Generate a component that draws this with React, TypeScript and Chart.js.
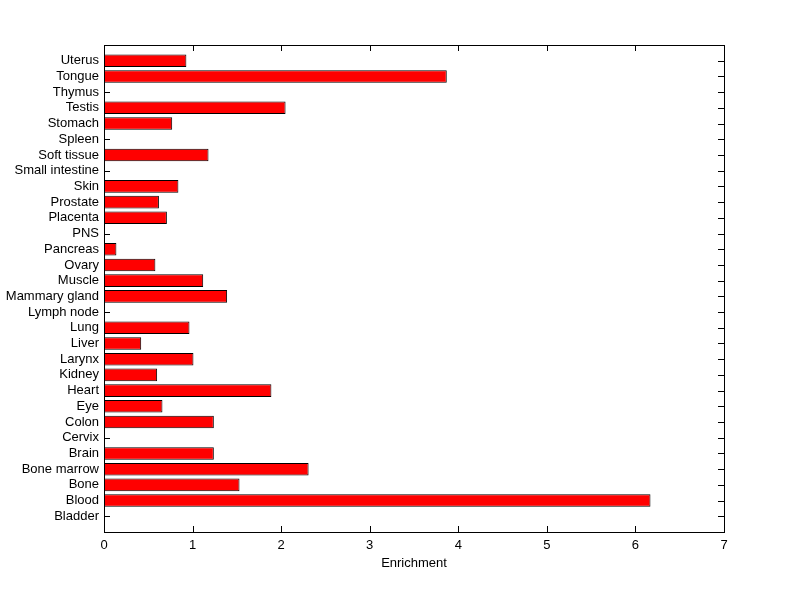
import React, { useEffect, useRef } from "react";
import { Chart, registerables } from "chart.js";

Chart.register(...registerables);

// Categories from bottom (position 1) to top (position 30)
const categories = [
  "Bladder", "Blood", "Bone", "Bone marrow", "Brain", "Cervix", "Colon", "Eye",
  "Heart", "Kidney", "Larynx", "Liver", "Lung", "Lymph node", "Mammary gland",
  "Muscle", "Ovary", "Pancreas", "PNS", "Placenta", "Prostate", "Skin",
  "Small intestine", "Soft tissue", "Spleen", "Stomach", "Testis", "Thymus",
  "Tongue", "Uterus",
];

const enrichment = [
  0, 6.17, 1.53, 2.31, 1.24, 0, 1.24, 0.66,
  1.89, 0.6, 1.01, 0.42, 0.965, 0, 1.39,
  1.12, 0.58, 0.14, 0, 0.71, 0.62, 0.84,
  0, 1.18, 0, 0.77, 2.05, 0,
  3.87, 0.93,
];

const xTicks = [0, 1, 2, 3, 4, 5, 6, 7];
const xTitle = "Enrichment";

const FONT = "'Liberation Sans', Arial, Helvetica, sans-serif";
const TICK_LEN = 6;

const framePlugin = {
  id: "matlabFrame",
  beforeDatasetsDraw(chart: any) {
    const { ctx, chartArea: a, scales } = chart;
    ctx.save();
    ctx.strokeStyle = "#000";
    ctx.lineWidth = 1;
    ctx.beginPath();
    for (const t of scales.x.ticks) {
      const px = Math.round(scales.x.getPixelForValue(t.value)) + 0.5;
      ctx.moveTo(px, a.bottom);
      ctx.lineTo(px, a.bottom - TICK_LEN);
      ctx.moveTo(px, a.top);
      ctx.lineTo(px, a.top + TICK_LEN);
    }
    for (let i = 0; i < categories.length; i++) {
      const py = Math.round(scales.y.getPixelForValue(i + 1)) + 0.5;
      ctx.moveTo(a.left, py);
      ctx.lineTo(a.left + TICK_LEN, py);
      ctx.moveTo(a.right, py);
      ctx.lineTo(a.right - TICK_LEN, py);
    }
    ctx.stroke();
    ctx.restore();
  },
  afterDatasetsDraw(chart: any) {
    const { ctx, chartArea: a } = chart;
    ctx.save();
    ctx.strokeStyle = "#000";
    ctx.lineWidth = 1;
    ctx.strokeRect(
      Math.round(a.left) + 0.5,
      Math.round(a.top) + 0.5,
      Math.round(a.right - a.left),
      Math.round(a.bottom - a.top)
    );
    ctx.restore();
  },
};

export default function App() {
  const ref = useRef<HTMLCanvasElement>(null);

  useEffect(() => {
    if (!ref.current) return;
    const chart = new Chart(ref.current, {
      type: "bar",
      data: {
        datasets: [
          {
            data: enrichment.map((v, i) => ({ x: v, y: i + 1 })),
            backgroundColor: "#ff0000",
            borderColor: "#000000",
            borderWidth: 1,
            borderSkipped: false,
            barPercentage: 0.8,
            categoryPercentage: 1,
          },
        ],
      },
      options: {
        indexAxis: "y",
        animation: false,
        responsive: false,
        maintainAspectRatio: false,
        layout: { padding: { left: 0, right: 76, top: 45, bottom: 0 } },
        plugins: {
          legend: { display: false },
          tooltip: { enabled: false },
        },
        scales: {
          x: {
            type: "linear",
            min: xTicks[0],
            max: xTicks[xTicks.length - 1],
            afterBuildTicks: (s: any) => {
              s.ticks = xTicks.map((v) => ({ value: v }));
            },
            afterFit: (s: any) => {
              s.height = 67;
            },
            grid: { display: false, drawTicks: false },
            border: { display: false },
            ticks: {
              color: "#000",
              padding: 6,
              font: { family: FONT, size: 13 },
              maxRotation: 0,
            },
            title: {
              display: true,
              text: xTitle,
              color: "#000",
              font: { family: FONT, size: 13 },
              padding: { top: 2, bottom: 28 },
            },
          },
          y: {
            type: "linear",
            offset: false,
            min: 0,
            max: categories.length + 1,
            afterBuildTicks: (s: any) => {
              s.ticks = categories.map((_, i) => ({ value: i + 1 }));
            },
            afterFit: (s: any) => {
              s.width = 104;
            },
            grid: { display: false, drawTicks: false, offset: false },
            border: { display: false },
            ticks: {
              color: "#000",
              padding: 5,
              autoSkip: false,
              font: { family: FONT, size: 13 },
              callback: (v: any) => categories[Number(v) - 1] ?? "",
            },
          },
        },
      },
      plugins: [framePlugin],
    });
    return () => chart.destroy();
  }, []);

  return (
    <div style={{ position: "absolute", left: 0, top: 0, width: 800, height: 599, background: "#fff" }}>
      <canvas ref={ref} width={800} height={599} style={{ display: "block" }} />
    </div>
  );
}
